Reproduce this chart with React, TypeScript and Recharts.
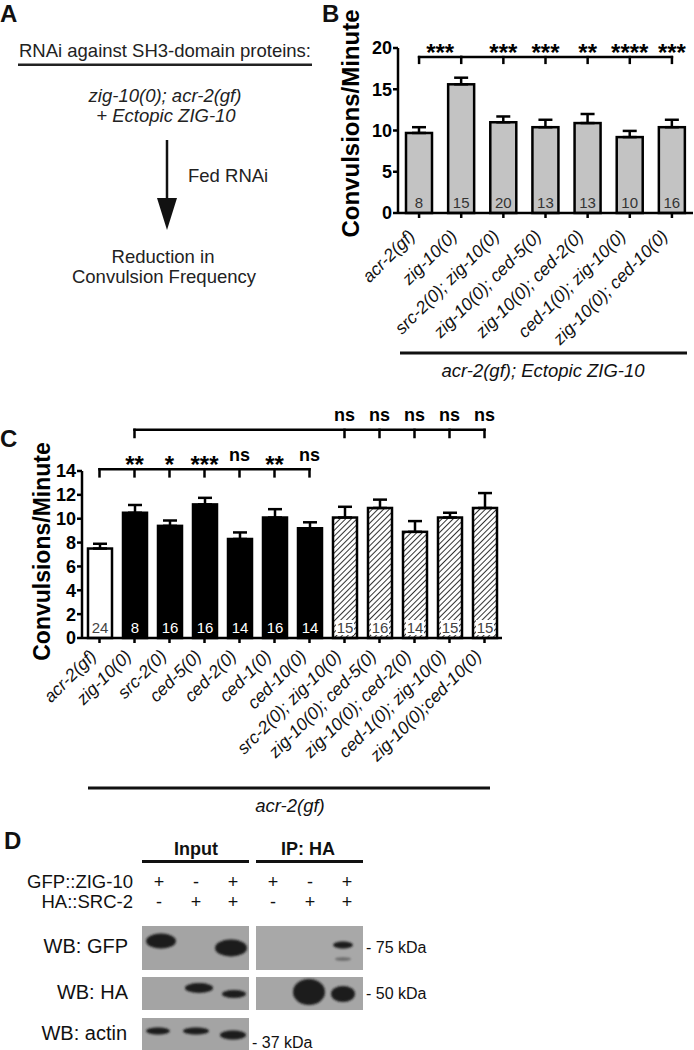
import React from 'react';
import { BarChart, Bar, XAxis, YAxis, ErrorBar, ReferenceLine } from 'recharts';

const FONT = '"Liberation Sans", Arial, Helvetica, sans-serif';

// ---------- Panel B data ----------
const bCategories = [
  'acr-2(gf)',
  'zig-10(0)',
  'src-2(0); zig-10(0)',
  'zig-10(0); ced-5(0)',
  'zig-10(0); ced-2(0)',
  'ced-1(0); zig-10(0)',
  'zig-10(0); ced-10(0)',
];
const bMeans = [9.7, 15.6, 11.0, 10.4, 10.9, 9.2, 10.4];
const bSem = [0.7, 0.8, 0.7, 0.9, 1.1, 0.75, 0.9];
const bN = [8, 15, 20, 13, 13, 10, 16];
const bSigFirst = '***';
const bSigSecond = ['***', '***', '**', '****', '***'];
const bTicks = [0, 5, 10, 15, 20];

// ---------- Panel C data ----------
const cCategories = [
  'acr-2(gf)',
  'zig-10(0)',
  'src-2(0)',
  'ced-5(0)',
  'ced-2(0)',
  'ced-1(0)',
  'ced-10(0)',
  'src-2(0); zig-10(0)',
  'zig-10(0); ced-5(0)',
  'zig-10(0); ced-2(0)',
  'ced-1(0); zig-10(0)',
  'zig-10(0);ced-10(0)',
];
const cMeans = [7.5, 10.5, 9.4, 11.2, 8.3, 10.1, 9.2, 10.1, 10.9, 8.9, 10.1, 10.9];
const cSem = [0.4, 0.65, 0.45, 0.55, 0.55, 0.7, 0.5, 0.9, 0.7, 0.9, 0.4, 1.25];
const cN = [24, 8, 16, 16, 14, 16, 14, 15, 16, 14, 15, 15];
const cGroup = ['control', 'single', 'single', 'single', 'single', 'single', 'single', 'double', 'double', 'double', 'double', 'double'];
const cSigLower = ['**', '*', '***', 'ns', '**', 'ns'];
const cSigUpper = ['ns', 'ns', 'ns', 'ns', 'ns'];
const cTicks = [0, 2, 4, 6, 8, 10, 12, 14];

const bData = bCategories.map((name, i) => ({ name, mean: bMeans[i], err: [0, bSem[i]], n: bN[i] }));
const cData = cCategories.map((name, i) => ({ name, mean: cMeans[i], err: [0, cSem[i]], n: cN[i], group: cGroup[i] }));

const AX = { stroke: '#000', strokeWidth: 2.5 };

const sigText = (x: number, yLine: number, label: string) => {
  if (!label) return null;
  const isNs = label === 'ns';
  return (
    <text
      x={x}
      y={isNs ? yLine - 8.5 : yLine + 3.5}
      textAnchor="middle"
      fontSize={isNs ? 18 : 24}
      fontWeight="bold"
      fill="#000"
      fontFamily={FONT}
    >
      {label}
    </text>
  );
};

const hShape = (label: string) => (p: any) => (
  <g>
    <line x1={p.x1} y1={p.y1} x2={p.x2} y2={p.y2} stroke="#000" strokeWidth={2.5} strokeLinecap="square" />
    {sigText((p.x1 + p.x2) / 2, p.y1, label)}
  </g>
);

const vShape = (label: string) => (p: any) => (
  <g>
    <line x1={p.x1} y1={p.y1} x2={p.x2} y2={p.y2} stroke="#000" strokeWidth={2.5} strokeLinecap="square" />
    {sigText(p.x1, p.y1, label)}
  </g>
);

const makeTick = (angle: number, dx: number, dy: number, fs: number) => (p: any) => {
  const x = p.x + dx;
  const y = p.y + dy;
  return (
    <text
      x={x}
      y={y}
      transform={`rotate(${angle} ${x} ${y})`}
      textAnchor="end"
      fontSize={fs}
      fontStyle="italic"
      fill="#111"
      fontFamily={FONT}
    >
      {p.payload.value}
    </text>
  );
};

const BShape = (p: any) => {
  const { x, y, width, height, payload } = p;
  return (
    <g>
      <rect x={x} y={y} width={width} height={height} fill="#c3c3c3" stroke="#000" strokeWidth={2.5} />
      <text x={x + width / 2} y={y + height - 5} textAnchor="middle" fontSize={15} fill="#333" fontFamily={FONT}>
        {payload.n}
      </text>
    </g>
  );
};

const CShape = (p: any) => {
  const { x, y, width, height, payload } = p;
  const fill = payload.group === 'control' ? '#fff' : payload.group === 'single' ? '#000' : 'url(#hatchC)';
  const txt = payload.group === 'single' ? '#fff' : '#444';
  return (
    <g>
      <rect x={x} y={y} width={width} height={height} fill={fill} stroke="#000" strokeWidth={2.5} />
      {payload.group === 'double' ? (
        <rect x={x + width / 2 - 9} y={y + height - 18} width={18} height={15} fill="#fff" />
      ) : null}
      <text x={x + width / 2} y={y + height - 5} textAnchor="middle" fontSize={15} fill={txt} fontFamily={FONT}>
        {payload.n}
      </text>
    </g>
  );
};

const B_BR = 18.9;
const B_BT = 18.2;
const C_LR = 14.15;
const C_LT = 13.55;
const C_UR = 17.45;
const C_UT = 16.85;

function PanelB() {
  const refs: any[] = [];
  refs.push(
    <ReferenceLine key="b-h1" ifOverflow="visible" segment={[{ x: bCategories[0], y: B_BR }, { x: bCategories[1], y: B_BR }]} shape={hShape(bSigFirst)} />
  );
  refs.push(
    <ReferenceLine key="b-v0" ifOverflow="visible" segment={[{ x: bCategories[0], y: B_BR }, { x: bCategories[0], y: B_BT }]} shape={vShape('')} />
  );
  refs.push(
    <ReferenceLine key="b-v1" ifOverflow="visible" segment={[{ x: bCategories[1], y: B_BR }, { x: bCategories[1], y: B_BT }]} shape={vShape('')} />
  );
  refs.push(
    <ReferenceLine key="b-h2" ifOverflow="visible" segment={[{ x: bCategories[1], y: B_BR }, { x: bCategories[6], y: B_BR }]} shape={hShape('')} />
  );
  bSigSecond.forEach((s, i) => {
    const c = bCategories[i + 2];
    refs.push(
      <ReferenceLine key={`b-vs${i}`} ifOverflow="visible" segment={[{ x: c, y: B_BR }, { x: c, y: B_BT }]} shape={vShape(s)} />
    );
  });
  return (
    <BarChart width={354} height={400} data={bData} margin={{ top: 48, right: 1, bottom: 0, left: 0 }} barSize={26}>
      <XAxis
        dataKey="name"
        interval={0}
        height={187}
        tickSize={5}
        tickMargin={2}
        axisLine={AX}
        tickLine={AX}
        tick={makeTick(-45, -3, 17, 17.5)}
      />
      <YAxis
        domain={[0, 20]}
        ticks={bTicks}
        interval={0}
        width={58}
        tickSize={5}
        tickMargin={1}
        axisLine={AX}
        tickLine={AX}
        tick={{ fontSize: 18, fontWeight: 'bold', fill: '#000', fontFamily: FONT }}
      />
      <Bar dataKey="mean" isAnimationActive={false} shape={BShape}>
        <ErrorBar dataKey="err" width={7} stroke="#000" strokeWidth={2.5} direction="y" isAnimationActive={false} />
      </Bar>
      {refs}
    </BarChart>
  );
}

function PanelC() {
  const refs: any[] = [];
  refs.push(
    <ReferenceLine key="c-lh" ifOverflow="visible" segment={[{ x: cCategories[0], y: C_LR }, { x: cCategories[6], y: C_LR }]} shape={hShape('')} />
  );
  refs.push(
    <ReferenceLine key="c-lv0" ifOverflow="visible" segment={[{ x: cCategories[0], y: C_LR }, { x: cCategories[0], y: C_LT }]} shape={vShape('')} />
  );
  cSigLower.forEach((s, i) => {
    const c = cCategories[i + 1];
    refs.push(
      <ReferenceLine key={`c-lv${i + 1}`} ifOverflow="visible" segment={[{ x: c, y: C_LR }, { x: c, y: C_LT }]} shape={vShape(s)} />
    );
  });
  refs.push(
    <ReferenceLine key="c-uh" ifOverflow="visible" segment={[{ x: cCategories[1], y: C_UR }, { x: cCategories[11], y: C_UR }]} shape={hShape('')} />
  );
  refs.push(
    <ReferenceLine key="c-uv1" ifOverflow="visible" segment={[{ x: cCategories[1], y: C_UR }, { x: cCategories[1], y: C_UT }]} shape={vShape('')} />
  );
  cSigUpper.forEach((s, i) => {
    const c = cCategories[i + 7];
    refs.push(
      <ReferenceLine key={`c-uv${i + 7}`} ifOverflow="visible" segment={[{ x: c, y: C_UR }, { x: c, y: C_UT }]} shape={vShape(s)} />
    );
  });
  return (
    <BarChart width={520} height={400} data={cData} margin={{ top: 71, right: 18, bottom: 0, left: 0 }} barSize={24}>
      <defs>
        <pattern id="hatchC" patternUnits="userSpaceOnUse" width={4} height={4} patternTransform="rotate(45)">
          <rect width={4} height={4} fill="#fff" />
          <line x1={0} y1={0} x2={0} y2={4} stroke="#000" strokeWidth={1.6} />
        </pattern>
      </defs>
      <XAxis
        dataKey="name"
        interval={0}
        height={162}
        tickSize={5}
        tickMargin={2}
        axisLine={AX}
        tickLine={AX}
        tick={makeTick(-45, -2, 12, 17.5)}
      />
      <YAxis
        domain={[0, 14]}
        ticks={cTicks}
        interval={0}
        width={82}
        tickSize={5}
        tickMargin={1}
        axisLine={AX}
        tickLine={AX}
        tick={{ fontSize: 18, fontWeight: 'bold', fill: '#000', fontFamily: FONT }}
      />
      <Bar dataKey="mean" isAnimationActive={false} shape={CShape}>
        <ErrorBar dataKey="err" width={7} stroke="#000" strokeWidth={2.5} direction="y" isAnimationActive={false} />
      </Bar>
      {refs}
    </BarChart>
  );
}

function Overlay() {
  const lanes = [159, 196, 233, 273, 310, 347];
  const gfp = ['+', '-', '+', '+', '-', '+'];
  const ha = ['-', '+', '+', '-', '+', '+'];
  return (
    <svg width={694} height={1050} style={{ position: 'absolute', left: 0, top: 0, pointerEvents: 'none' }} fontFamily={FONT}>
      <defs>
        <filter id="blurBand" x="-50%" y="-50%" width="200%" height="200%">
          <feGaussianBlur stdDeviation="1.3" />
        </filter>
        <clipPath id="clipHaIp">
          <rect x={256} y={977} width={107} height={33} />
        </clipPath>
      </defs>
      {/* panel letters */}
      <text x={0} y={22} fontSize={24} fontWeight="bold" fill="#111">A</text>
      <text x={322} y={22} fontSize={24} fontWeight="bold" fill="#111">B</text>
      <text x={0} y={447} fontSize={24} fontWeight="bold" fill="#111">C</text>
      <text x={4} y={849} fontSize={24} fontWeight="bold" fill="#111">D</text>

      {/* Panel A */}
      <text x={165} y={57} fontSize={18.5} textAnchor="middle" fill="#222">RNAi against SH3-domain proteins:</text>
      <rect x={18} y={63.5} width={294} height={2.5} fill="#222" />
      <text x={165} y={102} fontSize={18.5} fontStyle="italic" textAnchor="middle" fill="#222">zig-10(0); acr-2(gf)</text>
      <text x={166} y={122} fontSize={18.5} fontStyle="italic" textAnchor="middle" fill="#222">+ Ectopic ZIG-10</text>
      <line x1={167} y1={140} x2={167} y2={202} stroke="#111" strokeWidth={2.5} />
      <polygon points="157,198 177,198 167,230" fill="#111" />
      <text x={188} y={182} fontSize={18.5} fill="#222">Fed RNAi</text>
      <text x={163} y={263} fontSize={18.5} textAnchor="middle" fill="#222">Reduction in</text>
      <text x={164} y={283} fontSize={18.5} textAnchor="middle" fill="#222">Convulsion Frequency</text>

      {/* Panel B axis title + group line */}
      <text x={358.5} y={123.5} transform="rotate(-90 358.5 123.5)" textAnchor="middle" fontSize={24} fontWeight="bold" fill="#000">Convulsions/Minute</text>
      <rect x={400} y={351.5} width={287} height={3} fill="#111" />
      <text x={543} y={377} fontSize={18.5} fontStyle="italic" textAnchor="middle" fill="#111">acr-2(gf); Ectopic ZIG-10</text>

      {/* Panel C axis title + group line */}
      <text x={50} y={551.5} transform="rotate(-90 50 551.5)" textAnchor="middle" fontSize={23} fontWeight="bold" fill="#000">Convulsions/Minute</text>
      <rect x={88} y={786.5} width={402} height={3} fill="#111" />
      <text x={290} y={812} fontSize={18.5} fontStyle="italic" textAnchor="middle" fill="#111">acr-2(gf)</text>

      {/* Panel D */}
      <text x={196} y={855} fontSize={18} fontWeight="bold" textAnchor="middle" fill="#111">Input</text>
      <text x={308} y={855} fontSize={18} fontWeight="bold" textAnchor="middle" fill="#111">IP: HA</text>
      <rect x={142} y={860} width={107} height={3} fill="#111" />
      <rect x={256} y={860} width={107} height={3} fill="#111" />
      <text x={133} y={888} fontSize={18.5} textAnchor="end" fill="#111">GFP::ZIG-10</text>
      <text x={133} y={908} fontSize={18.5} textAnchor="end" fill="#111">HA::SRC-2</text>
      {lanes.map((lx, i) => (
        <text key={`g${i}`} x={lx} y={888} fontSize={18} textAnchor="middle" fill="#111">{gfp[i]}</text>
      ))}
      {lanes.map((lx, i) => (
        <text key={`h${i}`} x={lx} y={908} fontSize={18} textAnchor="middle" fill="#111">{ha[i]}</text>
      ))}
      {/* blot boxes */}
      <rect x={142} y={926} width={107} height={44} fill="#a4a4a4" />
      <rect x={256} y={926} width={107} height={44} fill="#a8a8a8" />
      <rect x={142} y={977} width={107} height={33} fill="#a4a4a4" />
      <rect x={256} y={977} width={107} height={33} fill="#a6a6a6" />
      <rect x={142} y={1018} width={107} height={32} fill="#a4a4a4" />
      <g filter="url(#blurBand)" fill="#1c1c1c">
        <ellipse cx={161} cy={941} rx={15} ry={7.5} />
        <ellipse cx={231} cy={948} rx={16} ry={8.5} />
        <ellipse cx={343} cy={945} rx={10} ry={3.5} />
        <ellipse cx={343} cy={959} rx={8} ry={1.8} fill="#6a6a6a" />
        <ellipse cx={199} cy={988} rx={14} ry={5} />
        <ellipse cx={234} cy={994} rx={12} ry={4} />
        <ellipse cx={343} cy={994} rx={12} ry={8} />
        <ellipse cx={158} cy={1031} rx={12} ry={3.5} />
        <ellipse cx={196} cy={1031} rx={13} ry={3.5} />
        <ellipse cx={233} cy={1035} rx={13} ry={4.5} />
      </g>
      <g clipPath="url(#clipHaIp)">
        <ellipse cx={309} cy={992} rx={16} ry={13} fill="#1c1c1c" filter="url(#blurBand)" />
      </g>
      <text x={128} y={953} fontSize={20} textAnchor="end" fill="#111">WB: GFP</text>
      <text x={128} y={999} fontSize={20} textAnchor="end" fill="#111">WB: HA</text>
      <text x={127} y={1040} fontSize={20} textAnchor="end" fill="#111">WB: actin</text>
      <text x={366} y={953} fontSize={16} fill="#111">- 75 kDa</text>
      <text x={366} y={999} fontSize={16} fill="#111">- 50 kDa</text>
      <text x={252} y={1048} fontSize={16} fill="#111">- 37 kDa</text>
    </svg>
  );
}

export default function App() {
  return (
    <div
      style={{
        position: 'absolute',
        left: 0,
        top: 0,
        width: 694,
        height: 1050,
        background: '#fff',
        fontFamily: FONT,
        overflow: 'hidden',
      }}
    >
      <div style={{ position: 'absolute', left: 340, top: 0 }}>
        <PanelB />
      </div>
      <div style={{ position: 'absolute', left: 0, top: 400 }}>
        <PanelC />
      </div>
      <Overlay />
    </div>
  );
}
